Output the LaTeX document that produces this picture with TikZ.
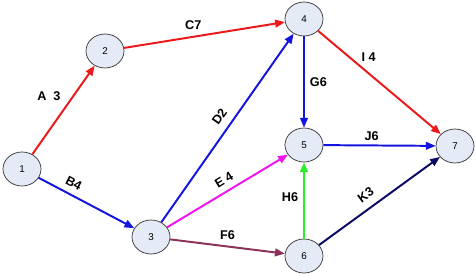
\documentclass[tikz,border=0pt]{standalone}
\usepackage{fontspec}
\setmainfont{Liberation Sans}
\usepackage{tikz}
\usetikzlibrary{arrows.meta,shapes.geometric,positioning}
\definecolor{actRed}    {RGB}{235, 25,  25}
\definecolor{actBlue}   {RGB}{20,  20,  225}
\definecolor{actMagenta}{RGB}{240, 20,  240}
\definecolor{actGreen}  {RGB}{40,  240, 40}
\definecolor{actPurple} {RGB}{140, 50,  90}
\definecolor{actNavy}   {RGB}{10,  10,  100}
\definecolor{eventFill} {RGB}{228, 234, 246}

\tikzset{
  event/.style={ellipse,draw=black!80,fill=eventFill,line width=0.5pt,
                minimum width=0.95cm,minimum height=0.85cm,inner sep=0pt,
                font=\fontsize{7}{8}\selectfont},
  act/.style={-{Triangle[length=7pt,width=5.5pt]},line width=1.4pt},
  actlbl/.style={font=\fontsize{9}{10}\selectfont\bfseries,text=black,
                 inner sep=1.5pt}
}

\begin{document}
\begin{tikzpicture}[x=0.025cm,y=-0.025cm]
    \useasboundingbox (0,0) rectangle (476,274);

    % ════════ eventos ════════
    \node[event] (e1) at (22,169) {1};
    \node[event] (e2) at (105,51) {2};
    \node[event] (e3) at (151,237){3};
    \node[event] (e4) at (304,19) {4};
    \node[event] (e5) at (304,145){5};
    \node[event] (e6) at (304,256){6};
    \node[event] (e7) at (455,146){7};

    % ════════ atividades ════════
    \draw[act,actRed] (e1) -- (e2)
      node[actlbl,pos=0.66,left=7pt]{A\ \ 3};
    \draw[act,actRed] (e2) -- (e4)
      node[actlbl,pos=0.43,above=3pt]{C7};
    \draw[act,actBlue] (e1) -- (e3)
      node[actlbl,pos=0.31,sloped,above=3pt]{B4};
    \draw[act,actBlue] (e3) -- (e4)
      node[actlbl,pos=0.52,sloped,above=4pt]{D2};
    \draw[act,actMagenta] (e3) -- (e5)
      node[actlbl,pos=0.52,sloped,above=3pt]{E\ 4};
    \draw[act,actPurple] (e3) -- (e6)
      node[actlbl,pos=0.5,above=3pt]{F6};
    \draw[act,actBlue] (e4) -- (e5)
      node[actlbl,pos=0.5,right=2pt]{G6};
    \draw[act,actGreen] (e6) -- (e5)
      node[actlbl,pos=0.54,left=2pt]{H6};
    \draw[act,actRed] (e4) -- (e7)
      node[actlbl,pos=0.33,anchor=south west]{I\ 4};
    \draw[act,actBlue] (e5) -- (e7)
      node[actlbl,pos=0.43,above=1pt]{J6};
    \draw[act,actNavy] (e6) -- (e7)
      node[actlbl,pos=0.45,sloped,above=4pt]{K3};

\end{tikzpicture}
\end{document}
